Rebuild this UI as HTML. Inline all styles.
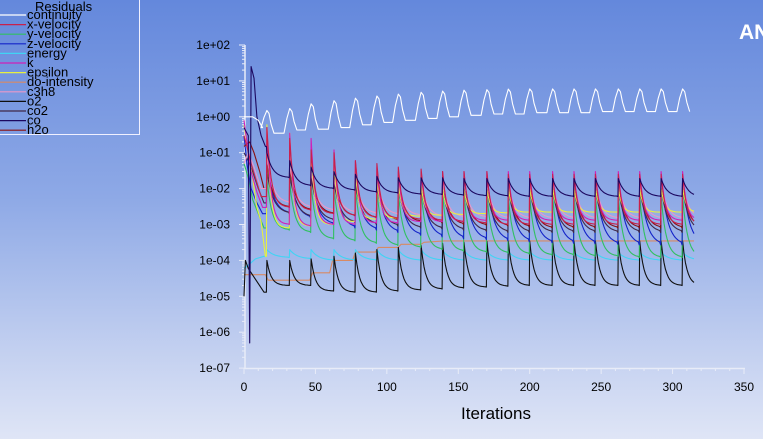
<!DOCTYPE html>
<html><head><meta charset="utf-8"><style>
html,body{margin:0;padding:0;}
body{width:763px;height:439px;overflow:hidden;background:linear-gradient(to bottom,#6488dc 0%,#8ea9e6 45%,#c3d0f0 80%,#dfe5f6 100%);font-family:"Liberation Sans",sans-serif;}
svg{position:absolute;left:0;top:0;}
</style></head><body>
<svg id="chart" width="763" height="439"></svg>
<script>
// ---- data ----
const seriesNames=["continuity","x-velocity","y-velocity","z-velocity","energy","k","epsilon","do-intensity","c3h8","o2","co2","co","h2o"];
const seriesColors=["#ffffff","#c8204c","#30c060","#1424c8","#40d4f4","#d020b8","#e8f040","#d88a64","#e898c8","#101010","#402848","#1c0860","#8a1010"];
const spikeIters=[16,32,47,63,78,93,108,124,139,154,170,185,200,216,231,246,262,277,292,307];
const lastIter=315;
const xTicks=[0,50,100,150,200,250,300,350];
const yTickLabels=["1e+02","1e+01","1e+00","1e-01","1e-02","1e-03","1e-04","1e-05","1e-06","1e-07"];
const yTickExps=[2,1,0,-1,-2,-3,-4,-5,-6,-7];
const startContinuity=[[0,1],[6,1],[10,0.8],[13,0.5]];
const startXVel=[[0,0.3],[2,0.15],[5,0.05],[8,0.02],[12,0.006]];
const startYVel=[[0,0.05],[3,0.02],[6,0.005],[10,0.002],[14,0.0008]];
const startZVel=[[0,0.3],[2,0.05],[5,0.01],[9,0.004],[13,0.002]];
const startEnergy=[[0,6e-5],[4,8e-5],[8,1.1e-4],[14,1.3e-4]];
const startK=[[0,0.8],[2,0.2],[5,0.03],[9,0.008],[13,0.003]];
const startEps=[[0,0.6],[3,0.1],[6,0.02],[9,0.003],[12,0.0012],[15,0.00013]];
const startC3h8=[[0,0.05],[3,0.1],[7,0.04],[12,0.01]];
const startO2=[[0,1e-5],[1,1e-4],[3,6e-5],[8,3e-5],[14,1.3e-5]];
const startCo2=[[0,0.1],[3,0.06],[6,0.03],[10,0.01],[14,0.004]];
const startCo=[[0,0.5],[3,0.3],[4,5e-7],[5,25],[7,12],[9,1],[12,0.3],[15,0.15]];
const startH2o=[[0,0.15],[4,0.2],[7,0.1],[11,0.03],[14,0.01]];
const peaksContinuity=[1.5,1.7,2.3,2.8,3.3,3.8,4.3,4.8,5.2,5.5,5.7,5.9,6,6,6,6,6,6,6,6];
const troughsContinuity=[0.35,0.43,0.45,0.5,0.6,0.7,0.8,0.9,1.0,1.1,1.2,1.2,1.3,1.3,1.3,1.4,1.4,1.4,1.4,1.4];
const peaksXVel=[0.5,0.25,0.12,0.1,0.06,0.05,0.04,0.035,0.03,0.03,0.03,0.025,0.025,0.025,0.025,0.025,0.025,0.025,0.025,0.025];
const troughsXVel=[3e-3,2.5e-3,2e-3,1.8e-3,1.6e-3,1.5e-3,1.4e-3,1.3e-3,1.2e-3,1.1e-3,1e-3,1e-3,1e-3,1e-3,1e-3,1e-3,1e-3,1e-3,1e-3,1e-3];
const peaksYVel=[0.02,0.015,0.012,0.01,0.01,0.009,0.008,0.008,0.007,0.007,0.007,0.006,0.006,0.006,0.006,0.006,0.006,0.006,0.006,0.006];
const troughsYVel=[7e-4,6e-4,4e-4,3.5e-4,3e-4,2.6e-4,2.3e-4,2e-4,1.8e-4,1.7e-4,1.6e-4,1.5e-4,1.4e-4,1.4e-4,1.3e-4,1.3e-4,1.2e-4,1.2e-4,1.2e-4,1.2e-4];
const peaksZVel=[0.05,0.03,0.025,0.02,0.02,0.02,0.02,0.02,0.02,0.02,0.02,0.02,0.02,0.02,0.02,0.02,0.02,0.02,0.02,0.02];
const troughsZVel=[2e-3,1.5e-3,1e-3,8e-4,7e-4,6e-4,5e-4,4.5e-4,4e-4,3.8e-4,3.5e-4,3.3e-4,3.1e-4,3e-4,2.9e-4,2.8e-4,2.7e-4,2.7e-4,2.7e-4,2.7e-4];
const peaksEnergy=[2e-4,2e-4,2e-4,2e-4,2e-4,2e-4,2e-4,2e-4,1.9e-4,1.9e-4,1.8e-4,1.8e-4,1.8e-4,1.7e-4,1.7e-4,1.7e-4,1.7e-4,1.7e-4,1.7e-4,1.7e-4];
const troughsEnergy=[1.2e-4,1.1e-4,1e-4,1e-4,1e-4,1e-4,1e-4,1e-4,1e-4,1e-4,1e-4,1e-4,1e-4,1e-4,1e-4,1e-4,1e-4,1e-4,1e-4,1e-4];
const peaksK=[0.5,0.35,0.25,0.12,0.06,0.04,0.03,0.03,0.03,0.03,0.03,0.03,0.03,0.03,0.03,0.03,0.03,0.03,0.03,0.03];
const troughsK=[1e-3,9e-4,1e-3,1e-3,1.1e-3,1.1e-3,1.2e-3,1.2e-3,1.2e-3,1.3e-3,1.3e-3,1.3e-3,1.3e-3,1.3e-3,1.3e-3,1.3e-3,1.3e-3,1.3e-3,1.3e-3,1.3e-3];
const peaksEps=[0.6,0.35,0.15,0.06,0.03,0.02,0.015,0.012,0.01,0.01,0.01,0.01,0.01,0.01,0.01,0.01,0.01,0.01,0.01,0.01];
const troughsEps=[8e-4,9e-4,1e-3,1.2e-3,1.4e-3,1.5e-3,1.7e-3,1.8e-3,1.9e-3,2e-3,2.1e-3,2.2e-3,2.2e-3,2.2e-3,2.2e-3,2.2e-3,2.2e-3,2.2e-3,2.2e-3,2.2e-3];
const peaksC3h8=[0.1,0.05,0.03,0.02,0.02,0.02,0.015,0.015,0.015,0.015,0.015,0.015,0.015,0.015,0.015,0.015,0.015,0.015,0.015,0.015];
const troughsC3h8=[4e-3,3e-3,2.5e-3,2.2e-3,2e-3,1.9e-3,1.8e-3,1.7e-3,1.6e-3,1.6e-3,1.5e-3,1.5e-3,1.5e-3,1.5e-3,1.5e-3,1.5e-3,1.5e-3,1.5e-3,1.5e-3,1.5e-3];
const peaksO2=[1e-4,1e-4,1.1e-4,1.3e-4,1.6e-4,2e-4,2.3e-4,2.6e-4,3e-4,3.2e-4,3.4e-4,3.5e-4,3.5e-4,3.5e-4,3.5e-4,3.5e-4,3.5e-4,3.5e-4,3.5e-4,3.5e-4];
const troughsO2=[2e-5,2e-5,1.4e-5,1.3e-5,1.3e-5,1.4e-5,1.5e-5,1.6e-5,1.7e-5,1.8e-5,1.9e-5,2e-5,2e-5,2e-5,2e-5,2e-5,2e-5,2e-5,2e-5,2e-5];
const peaksCo2=[0.03,0.025,0.02,0.015,0.013,0.012,0.011,0.01,0.01,0.01,0.01,0.01,0.01,0.01,0.01,0.01,0.01,0.01,0.01,0.01];
const troughsCo2=[2e-3,1.6e-3,1.3e-3,1.1e-3,1e-3,9e-4,8e-4,7.5e-4,7e-4,6.5e-4,6e-4,6e-4,6e-4,6e-4,6e-4,6e-4,6e-4,6e-4,6e-4,6e-4];
const peaksCo=[0.1,0.06,0.04,0.03,0.025,0.022,0.02,0.02,0.02,0.019,0.019,0.019,0.019,0.019,0.019,0.019,0.019,0.019,0.019,0.019];
const troughsCo=[0.02,0.012,0.01,0.009,0.008,0.0075,0.007,0.0068,0.0065,0.0063,0.0062,0.006,0.006,0.006,0.006,0.006,0.006,0.006,0.006,0.0059];
const peaksH2o=[0.05,0.04,0.03,0.025,0.022,0.02,0.02,0.02,0.02,0.02,0.02,0.02,0.02,0.02,0.02,0.02,0.02,0.02,0.02,0.02];
const troughsH2o=[3e-3,2.5e-3,2e-3,1.7e-3,1.5e-3,1.3e-3,1.2e-3,1.1e-3,1e-3,9.5e-4,9e-4,8.5e-4,8e-4,8e-4,8e-4,8e-4,8e-4,8e-4,8e-4,8e-4];
const doIntensityIters=[0,15,17,46,48,60,62,76,78,92,94,108,110,124,126,140,315];
const doIntensityVals=[4e-5,4e-5,2.8e-5,2.8e-5,4.5e-5,4.5e-5,1e-4,1e-4,1.7e-4,1.7e-4,2.3e-4,2.3e-4,2.8e-4,2.8e-4,3.2e-4,3.5e-4,3.5e-4];

const X0=244, XPX=500/350, Y0=45, DEC=35.9;
const xS=v=>X0+v*XPX;
const yS=v=>Y0+(2-Math.log10(v))*DEC;
const NS="http://www.w3.org/2000/svg";
const svg=document.getElementById('chart');
function mk(tag,attrs,parent){const e=document.createElementNS(NS,tag);for(const k in attrs)e.setAttribute(k,attrs[k]);(parent||svg).appendChild(e);return e;}

const axisG=mk('g',{});


mk('line',{x1:245,y1:45,x2:245,y2:369,stroke:'#e8ecf8','stroke-width':1.5},axisG);
mk('line',{x1:245,y1:368.5,x2:745,y2:368.5,stroke:'#e8ecf8','stroke-width':1.5},axisG);
yTickExps.forEach((ex,i)=>{
  const y=yS(Math.pow(10,ex));
  mk('line',{x1:239,y1:y,x2:245,y2:y,stroke:'#e8ecf8'},axisG);
  if(ex>-7){for(let m=2;m<10;m++){const ym=yS(m*Math.pow(10,ex-1));mk('line',{x1:242,y1:ym,x2:245,y2:ym,stroke:'#e8ecf8'},axisG);}}
  const t=mk('text',{x:230,y:y+4,'text-anchor':'end','font-size':12,fill:'#000'},axisG);
  t.textContent=yTickLabels[i];
  
  
});
xTicks.forEach(v=>{
  const x=xS(v);
  mk('line',{x1:x,y1:368,x2:x,y2:374,stroke:'#e8ecf8'},axisG);
  if(v<350)for(let m=1;m<5;m++){const xm=xS(v+m*10);mk('line',{x1:xm,y1:368,x2:xm,y2:371,stroke:'#e8ecf8'},axisG);}
  const t=mk('text',{x:x,y:391,'text-anchor':'middle','font-size':12,fill:'#000'},axisG);
  t.textContent=v;
  
  
});
const xt=mk('text',{x:496,y:419,'text-anchor':'middle','font-size':17,fill:'#000'});
xt.textContent='Iterations';


const logo=mk('text',{x:739,y:39,'font-size':21,'font-weight':'bold',fill:'#ffffff'});
logo.textContent='ANSYS';



function buildSeries(start,peaks,troughs,tau,bump){
  const pts=start.map(p=>[p[0],p[1]]);
  let prevT=Math.log10(start[start.length-1][1]);
  for(let c=0;c<spikeIters.length;c++){
    const s=spikeIters[c], e=(c+1<spikeIters.length)?spikeIters[c+1]:lastIter+1;
    const lp=Math.log10(peaks[c]), lt=Math.log10(troughs[c]);
    if(bump){
      pts.push([s-4,Math.pow(10,prevT)]);
      pts.push([s-2,Math.pow(10,prevT+(lp-prevT)*0.6)]);
      pts.push([s,Math.pow(10,lp)]);
      pts.push([s+1.5,Math.pow(10,lp-0.08)]);
      pts.push([s+3,Math.pow(10,lt+(lp-lt)*0.4)]);
      pts.push([s+5,Math.pow(10,lt)]);
      pts.push([Math.min(e-4,lastIter),Math.pow(10,lt)]);
    } else {
      pts.push([s-0.3,Math.pow(10,prevT)]);
      pts.push([s,Math.pow(10,lp)]);
      for(let t=s+1;t<e&&t<=lastIter;t++){
        const lv=lt+(lp-lt)*Math.exp(-(t-s)/tau);
        pts.push([t,Math.pow(10,lv)]);
      }
    }
    prevT=lt;
  }
  return pts;
}
const seriesPts=[
  buildSeries(startContinuity,peaksContinuity,troughsContinuity,3,true),
  buildSeries(startXVel,peaksXVel,troughsXVel,3,false),
  buildSeries(startYVel,peaksYVel,troughsYVel,3.5,false),
  buildSeries(startZVel,peaksZVel,troughsZVel,4.5,false),
  buildSeries(startEnergy,peaksEnergy,troughsEnergy,5,false),
  buildSeries(startK,peaksK,troughsK,2.8,false),
  buildSeries(startEps,peaksEps,troughsEps,2.5,false),
  doIntensityIters.map((it,i)=>[it,doIntensityVals[i]]),
  buildSeries(startC3h8,peaksC3h8,troughsC3h8,4,false),
  buildSeries(startO2,peaksO2,troughsO2,3,false),
  buildSeries(startCo2,peaksCo2,troughsCo2,4.5,false),
  buildSeries(startCo,peaksCo,troughsCo,4,false),
  buildSeries(startH2o,peaksH2o,troughsH2o,4,false)
];
const plotG=mk('g',{});


const order=[7,4,9,2,3,10,12,8,6,5,1,11,0];
order.forEach(i=>{
  const d=seriesPts[i].filter(p=>p[0]<=lastIter).map((p,j)=>(j?'L':'M')+xS(p[0]).toFixed(1)+','+yS(p[1]).toFixed(1)).join('');
  const path=mk('path',{d:d,fill:'none',stroke:seriesColors[i],'stroke-width':1.1,'stroke-linejoin':'round'},plotG);
  
  
});

const lg=mk('g',{});


mk('polyline',{points:'0,134.5 139.5,134.5 139.5,0',fill:'none',stroke:'#f0f0ff','stroke-width':1},lg);
const lt=mk('text',{x:35,y:11,'font-size':13,fill:'#000'},lg);
lt.textContent='Residuals';


seriesNames.forEach((n,i)=>{
  const y=15+i*9.6;
  const g=mk('g',{},lg);
  
  
  mk('line',{x1:0,y1:y,x2:26,y2:y,stroke:seriesColors[i],'stroke-width':1.2},g);
  const t=mk('text',{x:27,y:y+4,'font-size':13,fill:'#000'},g);
  t.textContent=n;
});
</script>
</body></html>
